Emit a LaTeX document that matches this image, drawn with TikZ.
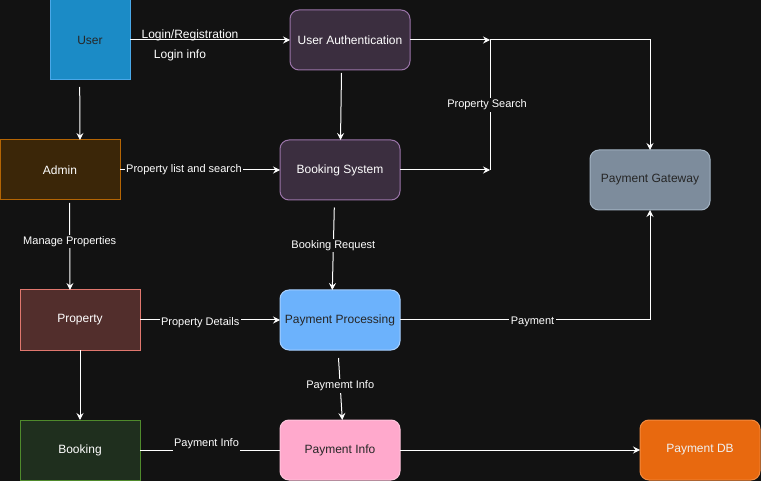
\documentclass[tikz,border=0pt]{standalone}
\usepackage{fontspec}
\setmainfont{Liberation Sans}
\usetikzlibrary{arrows.meta}

\definecolor{bg}{HTML}{121212}
\definecolor{userfill}{HTML}{1B8BC6} \definecolor{userdraw}{HTML}{4AA8E8}
\definecolor{purfill}{HTML}{3B2E3F}  \definecolor{purdraw}{HTML}{9A74A8}
\definecolor{admfill}{HTML}{3B2608}  \definecolor{admdraw}{HTML}{B46504}
\definecolor{gatefill}{HTML}{7D8C9C} \definecolor{gatedraw}{HTML}{A3B3C3}
\definecolor{propfill}{HTML}{522E2C} \definecolor{propdraw}{HTML}{E0776E}
\definecolor{procfill}{HTML}{6CB2FC} \definecolor{procdraw}{HTML}{A8D0FF}
\definecolor{bookfill}{HTML}{1F2F1E} \definecolor{bookdraw}{HTML}{4F8A2C}
\definecolor{infofill}{HTML}{FFA9CC} \definecolor{infodraw}{HTML}{FFC4DC}
\definecolor{dbfill}{HTML}{E8690F}   \definecolor{dbdraw}{HTML}{F48A3E}

\begin{document}
\begin{tikzpicture}[x=1pt,y=-1pt,>={Stealth[length=7pt,width=7pt,inset=2.5pt]},
    box/.style={draw,line width=1pt,minimum width=120pt,minimum height=60pt,
      inner sep=0pt,outer sep=0pt,font=\fontsize{12}{14}\selectfont},
    rbox/.style={box,rounded corners=9pt},
    lbl/.style={fill=bg,text=white,inner sep=1.5pt,font=\fontsize{11}{13}\selectfont},
    flow/.style={white,line width=1pt,->}]
    \fill [bg] (0,0) rectangle (761,481) ;
    \useasboundingbox (0,0) rectangle (761,481) ;

    % nodes
    \node [box,fill=userfill,draw=userdraw,text=black!85,minimum width=80pt,minimum height=80pt] (user) at (90,40) {User} ;
    \node [rbox,fill=purfill,draw=purdraw,text=white] (auth) at (350,40) {User Authentication} ;
    \node [box,fill=admfill,draw=admdraw,text=white] (admin) at (60,170) {Admin} ;
    \node [rbox,fill=purfill,draw=purdraw,text=white] (bsys) at (340,170) {Booking System} ;
    \node [rbox,fill=gatefill,draw=gatedraw,text=black!85] (gate) at (650,180) {Payment Gateway} ;
    \node [box,fill=propfill,draw=propdraw,text=white] (prop) at (80,320) {Property} ;
    \node [rbox,fill=procfill,draw=procdraw,text=black!85] (proc) at (340,320) {Payment Processing} ;
    \node [box,fill=bookfill,draw=bookdraw,text=white] (book) at (80,450) {Booking} ;
    \node [rbox,fill=infofill,draw=infodraw,text=black!85] (info) at (340,450) {Payment Info} ;
    \node [rbox,fill=dbfill,draw=dbdraw,text=white!94!black] (db) at (700,450) {Payment DB} ;

    % free ends
    \coordinate (ua) at (79.7,87) ;
    \coordinate (ab) at (341.5,73) ;
    \coordinate (ap) at (69.5,203) ;
    \coordinate (bp) at (334.3,207.5) ;
    \coordinate (pi) at (338.5,358) ;
    \coordinate (jn) at (490,40) ;
    \coordinate (js) at (490,170) ;
    \coordinate (pc) at (650,320) ;

    % flows
    \draw [flow] (user.east) -- (auth.west) ;
    \node [lbl,fill=none,font=\fontsize{12}{14}\selectfont] (login) at (190,35) {Login/Registration} ;
    \node [lbl,fill=none,font=\fontsize{12}{14}\selectfont] (info1) at (180,55) {Login info} ;
    \draw [flow] (ua) -- ([xshift=20pt]admin.north) ;
    \draw [flow] (ab) -- ([xshift=0.5pt]bsys.north) ;
    \draw [flow] (admin.east) -- node [lbl,pos=0.4] (plist) {Property list and search} (bsys.west) ;
    \draw [flow] (auth.east) -- (jn) ;
    \draw [flow] (bsys.east) -- (js) ;
    \draw [flow] (js) -- node [lbl,xshift=-3pt] (psearch) {Property Search} (jn) -| (gate.north) ;
    \draw [flow] (ap) -- node [lbl,pos=0.44] (manage) {Manage Properties} ([xshift=-10pt]prop.north) ;
    \draw [flow] (prop.east) -- node [lbl,pos=0.43,yshift=-3pt] (pdet) {Property Details} (proc.west) ;
    \draw [flow] (bp) -- node [lbl,pos=0.46] (breq) {Booking Request} ([xshift=-7.7pt]proc.north) ;
    \draw [flow] (proc.east) -- node [lbl,pos=0.53,yshift=-1.5pt] (pay) {Payment} (pc) -- (gate.south) ;
    \draw [flow] (prop.south) -- (book.north) ;
    \draw [flow] (pi) -- node [lbl,pos=0.45] (pmemt) {Paymemt Info} ([xshift=2.3pt]info.north) ;
    \draw [white,line width=1pt] (book.east) -- node [lbl,pos=0.475,yshift=6pt] (pinfo) {Payment Info} (info.west) ;
    \draw [flow] (info.east) -- (db.west) ;
\end{tikzpicture}
\end{document}
